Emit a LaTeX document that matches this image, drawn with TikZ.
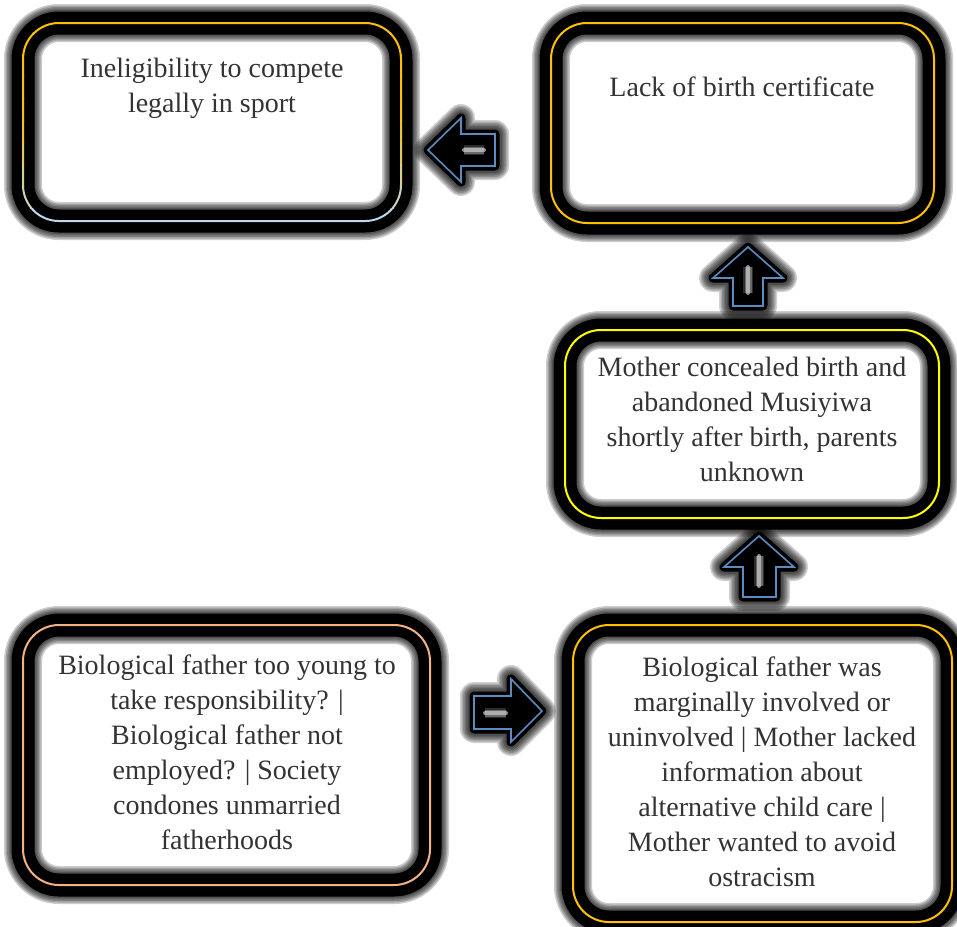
\documentclass[tikz,border=0pt]{standalone}
\usepackage{fontspec}
\setmainfont{Liberation Serif}
\usetikzlibrary{calc}
\definecolor{gold}{HTML}{FFC000}
\definecolor{paleblue}{HTML}{BDD7EE}
\definecolor{lemon}{HTML}{FFFF00}
\definecolor{peach}{HTML}{F4B183}
\definecolor{arrowblue}{HTML}{5B8BC0}
\definecolor{txt}{HTML}{333333}
\tikzset{
  glowbox/.style={rectangle, rounded corners=36pt, inner sep=0pt, outer sep=0pt,
    preaction={fill=white},
    preaction={draw=black, draw opacity=.2, line width=38pt},
    preaction={draw=black, draw opacity=.2, line width=35pt},
    preaction={draw=black, draw opacity=.2, line width=32pt},
    preaction={draw=black, draw opacity=.2, line width=29pt},
    preaction={draw=black, draw opacity=.2, line width=26pt},
    preaction={draw=black, line width=23pt},
    draw=#1, line width=2pt},
  boxtext/.style={anchor=north, align=center, inner sep=0pt, text=txt,
    font=\fontsize{28}{35}\selectfont},
  blockarrow/.style={line join=miter,
    preaction={draw=black, draw opacity=.18, line width=28pt, line join=round},
    preaction={draw=black, draw opacity=.18, line width=25pt, line join=round},
    preaction={draw=black, draw opacity=.18, line width=22pt, line join=round},
    preaction={draw=black, draw opacity=.18, line width=19pt, line join=round},
    preaction={draw=black, draw opacity=.18, line width=16pt, line join=round},
    preaction={draw=black, draw opacity=.18, line width=13pt, line join=round},
    preaction={draw=black, fill=black, line width=9pt, line join=round},
    draw=arrowblue, line width=1.6pt},
  shine/.style={line cap=round,
    preaction={draw=gray, line width=#1, opacity=.35},
    preaction={draw=gray!70, line width=#1*0.7, opacity=.5},
    draw=gray!40, line width=#1*0.4, opacity=.7}
}
\begin{document}
\begin{tikzpicture}[x=1pt,y=-1pt]
\useasboundingbox (0,0) rectangle (957,926);
\fill[white] (0,0) rectangle (957,926);

% boxes
\node[glowbox=none, minimum width=378pt, minimum height=198pt] (b1) at (212,122) {};
\node[glowbox=gold, minimum width=383pt, minimum height=200pt] (b2) at (742.5,123) {};
\node[glowbox=lemon, minimum width=374pt, minimum height=188pt] (b3) at (752,424) {};
\node[glowbox=peach, minimum width=407pt, minimum height=260pt] (b4) at (226.5,755) {};
\node[glowbox=gold, minimum width=379pt, minimum height=297pt] (b5) at (762.5,773.5) {};

% gradient border of the first box
\foreach \i in {0,...,9}{
  \pgfmathtruncatemacro\p{max(0,min(100,100-(\i-4)*20))}
  \begin{scope}
    \clip (0,{10+\i*22}) rectangle (430,{10+(\i+1)*22});
    \draw[draw=gold!\p!paleblue, line width=2pt, rounded corners=36pt]
      (b1.north west) rectangle (b1.south east);
  \end{scope}
}

% texts
\node[boxtext] (t1) at (212,58) {Ineligibility to compete\\legally in sport};
\node[boxtext] (t2) at (742,77) {Lack of birth certificate};
\node[boxtext] (t3) at (752,357) {Mother concealed birth and\\abandoned Musiyiwa\\shortly after birth, parents\\unknown};
\node[boxtext] (t4) at (227,655) {Biological father too young to\\take responsibility? |\\Biological father not\\employed? | Society\\condones unmarried\\fatherhoods};
\node[boxtext] (t5) at (762,657) {Biological father was\\marginally involved or\\uninvolved | Mother lacked\\information about\\alternative child care |\\Mother wanted to avoid\\ostracism};

% block arrows
% b2 -> b1 (left)
\draw[blockarrow] (428,150) -- (461,118) -- (461,134) -- (495,134) -- (495,166)
  -- (461,166) -- (461,182) -- cycle;
\draw[shine=10pt] (464,150) -- (484,150);
% b3 -> b2 (up)
\draw[blockarrow] (748,247) -- (783,278) -- (763,278) -- (763,306) -- (733,306)
  -- (733,278) -- (713,278) -- cycle;
\draw[shine=10pt] (748,267) -- (748,293);
% b5 -> b3 (up)
\draw[blockarrow] (759,536) -- (794,567) -- (776,567) -- (776,597) -- (743,597)
  -- (743,567) -- (724,567) -- cycle;
\draw[shine=10pt] (759,556) -- (759,586);
% b4 -> b5 (right)
\draw[blockarrow] (542,711) -- (511,679) -- (511,696) -- (474,696) -- (474,729)
  -- (511,729) -- (511,742) -- cycle;
\draw[shine=10pt] (485,713) -- (506,713);
\end{tikzpicture}
\end{document}
